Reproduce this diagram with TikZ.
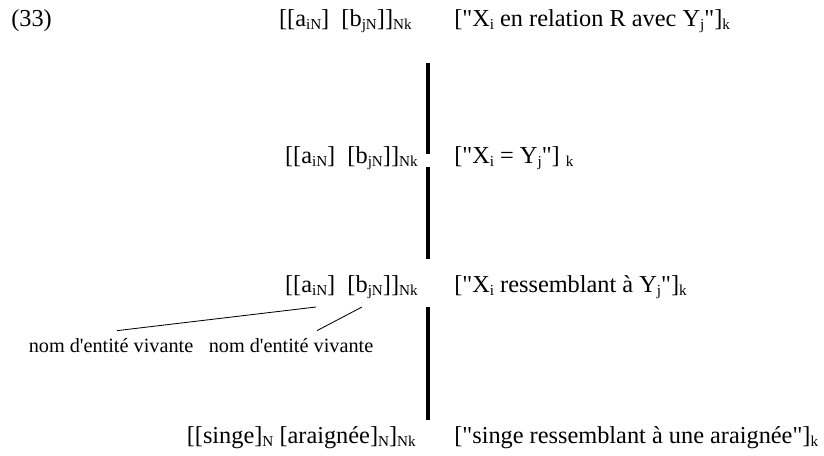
\documentclass[tikz,border=0pt]{standalone}
\usepackage{fontspec}
\setmainfont{Liberation Serif}[Ligatures=TeXOff]
\usetikzlibrary{calc,positioning}
\newcommand{\ind}[1]{\raisebox{-0.28ex}{\fontsize{10.8}{11}\selectfont #1}}

\begin{document}
\begin{tikzpicture}[x=0.025cm, y=-0.025cm,
  form/.style={anchor=base east, inner sep=0pt, font=\fontsize{17.3}{20}\selectfont},
  sens/.style={anchor=base west, inner sep=0pt, font=\fontsize{17.3}{20}\selectfont},
  gloss/.style={anchor=base, inner sep=0pt, font=\fontsize{14.4}{17}\selectfont},
  bar/.style={line width=2.2pt}]

\useasboundingbox (0,0) rectangle (824,455);

\node[sens] (num) at (11,26) {(33)};

% Forme
\node[form] (f1) at (412,26)  {[[a\ind{iN}] \ [b\ind{jN}]]\ind{Nk}};
\node[form] (f2) at (418,163) {[[a\ind{iN}] \ [b\ind{jN}]]\ind{Nk}};
\node[form] (f3) at (418,292) {[[a\ind{iN}] \ [b\ind{jN}]]\ind{Nk}};
\node[form] (f4) at (416,443) {[[singe]\ind{N} [araignée]\ind{N}]\ind{Nk}};

% Sens
\node[sens] (s1) at (454,26)  {["X\ind{i} en relation R avec Y\ind{j}"]\ind{k}};
\node[sens] (s2) at (454,163) {["X\ind{i} = Y\ind{j}"] \ind{k}};
\node[sens] (s3) at (454,292) {["X\ind{i} ressemblant à Y\ind{j}"]\ind{k}};
\node[sens] (s4) at (454,443) {["singe ressemblant à une araignée"]\ind{k}};

% Barres
\coordinate (t1) at (428,63);  \coordinate (u1) at (428,154);
\coordinate (t2) at (428,167); \coordinate (u2) at (428,259);
\coordinate (t3) at (428,307); \coordinate (u3) at (428,420);
\draw[bar] (t1) -- (u1);
\draw[bar] (t2) -- (u2);
\draw[bar] (t3) -- (u3);

% Traits
\node[gloss] (g1) at (111,352) {nom d'entité vivante};
\node[gloss] (g2) at (291,352) {nom d'entité vivante};
\coordinate (aN) at (316,307);
\coordinate (bN) at (362,307);
\draw[line width=0.6pt] (aN) -- ($(g1.north)+(6,-7)$);
\draw[line width=0.6pt] (bN) -- ($(g2.north)+(26,-7)$);

\end{tikzpicture}
\end{document}
